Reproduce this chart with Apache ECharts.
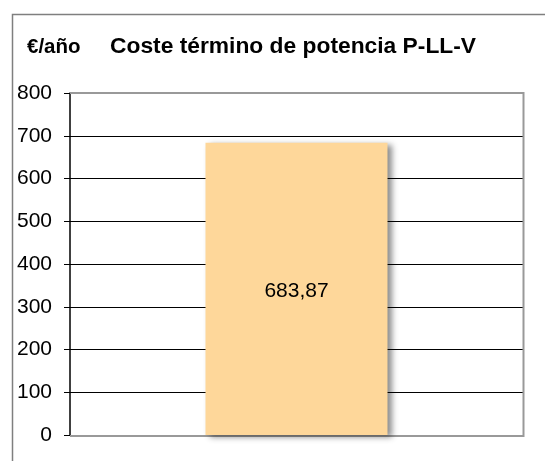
<!DOCTYPE html>
<html><head><meta charset="utf-8">
<script src="https://cdn.jsdelivr.net/npm/echarts@6/dist/echarts.min.js"></script>
<style>html,body{margin:0;padding:0;background:#fff;}#c{width:545px;height:461px;}</style>
</head><body><div id="c"></div>
<script>
const categories = ['P-LL-V'];
const values = [683.87];
const yTicks = [0, 100, 200, 300, 400, 500, 600, 700, 800];
const titleText = 'Coste término de potencia P-LL-V';
const unitText = '€/año';

const chart = echarts.init(document.getElementById('c'), null, {renderer: 'canvas'});
const FF = '"Liberation Sans", Arial, sans-serif';
chart.setOption({
  animation: false,
  backgroundColor: '#fff',
  textStyle: {fontFamily: FF},
  graphic: [
    {type: 'rect', shape: {x: 12.5, y: 14.5, width: 560, height: 480}, style: {fill: 'none', stroke: '#7f7f7f', lineWidth: 1.5}, silent: true, z: 0},
    {type: 'polyline', shape: {points: [[70, 93], [523.5, 93], [523.5, 436], [70, 436]]}, style: {fill: 'none', stroke: '#999', lineWidth: 2}, silent: true, z: 15},
    {type: 'text', x: 27, y: 47, style: {text: unitText, font: 'bold 20.5px ' + FF, fill: '#000', verticalAlign: 'middle'}},
    {type: 'text', x: 110, y: 47, style: {text: titleText, font: 'bold 22.8px ' + FF, fill: '#000', verticalAlign: 'middle'}}
  ],
  grid: {left: 70, right: 22, top: 93, bottom: 26, show: false},
  xAxis: {
    type: 'category', data: categories,
    axisLine: {show: false}, axisTick: {show: false}, axisLabel: {show: false}
  },
  yAxis: {
    type: 'value', min: yTicks[0], max: yTicks[yTicks.length - 1], interval: 100,
    axisLine: {show: true, lineStyle: {color: '#000', width: 1.5}},
    axisTick: {show: true, length: 6, lineStyle: {color: '#000', width: 1}},
    axisLabel: {fontSize: 21, color: '#000', margin: 18, fontFamily: FF},
    splitLine: {show: true, lineStyle: {color: '#000', width: 1}},
    z: 10
  },
  series: [{
    type: 'bar', data: values, barWidth: 182, z: 20,
    itemStyle: {color: '#FED79A', shadowColor: 'rgba(0,0,0,0.45)', shadowBlur: 6, shadowOffsetX: 4, shadowOffsetY: 2},
    label: {show: true, position: 'inside', fontSize: 21, color: '#000', fontFamily: FF, offset: [0, 2],
      formatter: p => p.value.toFixed(2).replace('.', ',')}
  }]
});
</script></body></html>
